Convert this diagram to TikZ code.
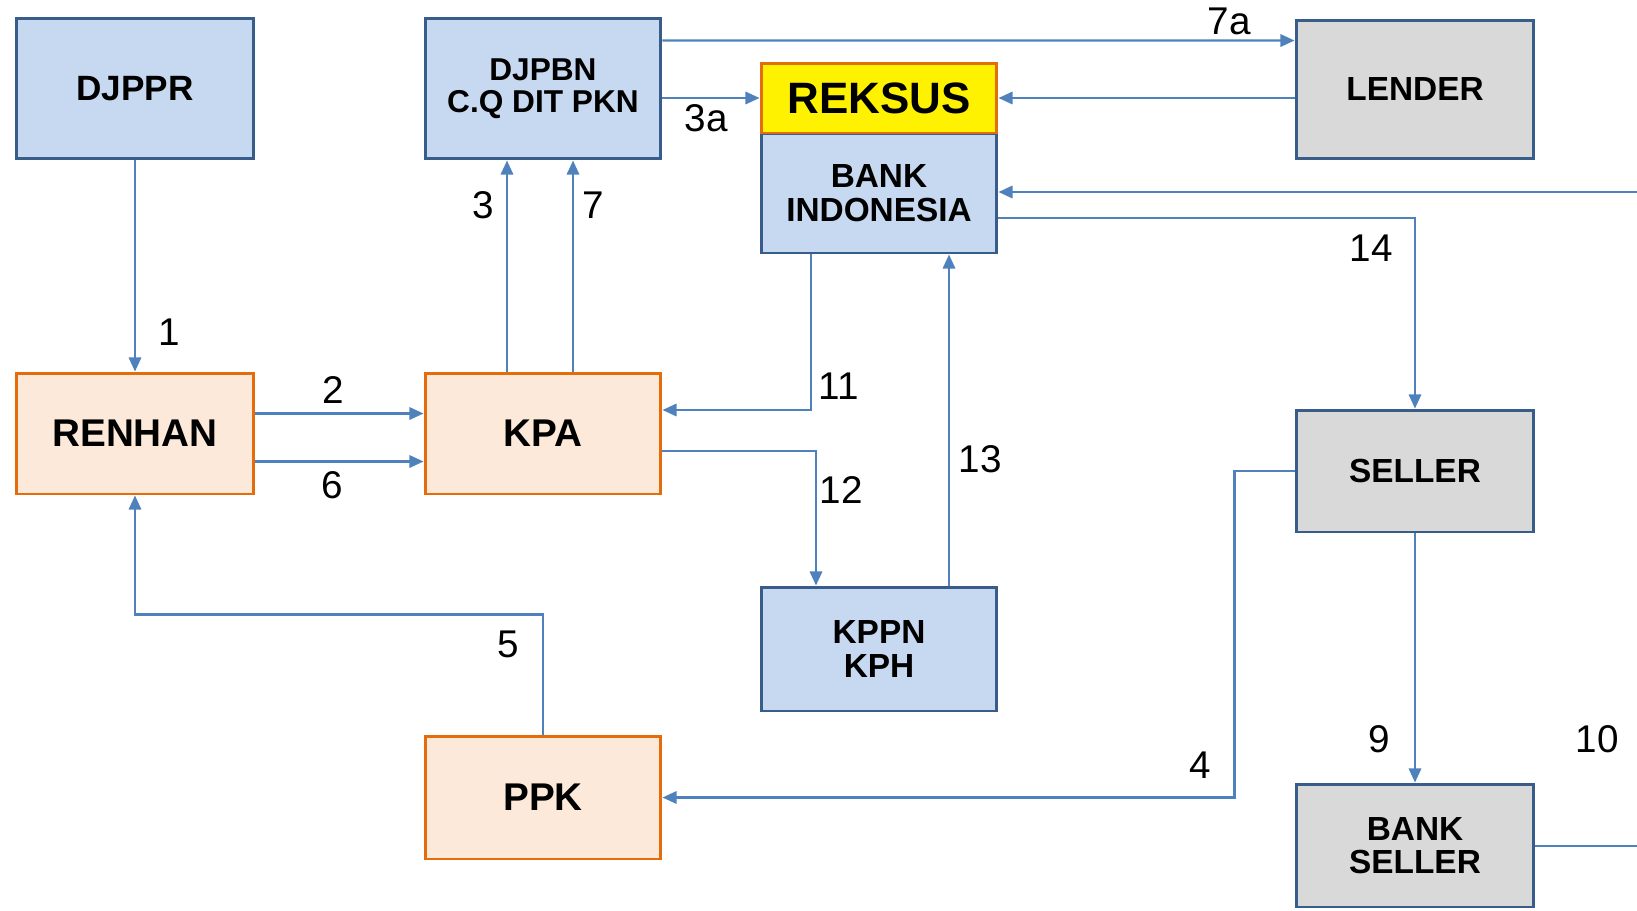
\documentclass[tikz,border=0pt]{standalone}
\usepackage{fontspec}
\setmainfont{Liberation Sans}
\usepackage{tikz}
\usetikzlibrary{calc, positioning, arrows.meta}

\definecolor{boxblue}{HTML}{C6D9F1}
\definecolor{edgeblue}{HTML}{385D8A}
\definecolor{boxorange}{HTML}{FDE9D9}
\definecolor{edgeorange}{HTML}{E46C0A}
\definecolor{boxgray}{HTML}{D9D9D9}
\definecolor{linkblue}{HTML}{4F81BD}

\begin{document}
\begin{tikzpicture}[
    x=0.02cm, y=-0.02cm,
    unit/.style={
        rectangle,
        line width=1.7pt,
        minimum width=4.72cm,
        align=center,
        inner sep=2pt,
        font=\bfseries\fontsize{19}{19}\selectfont
    },
    bluebox/.style={unit, draw=edgeblue, fill=boxblue},
    orangebox/.style={unit, draw=edgeorange, fill=boxorange, font=\bfseries\fontsize{22}{22}\selectfont},
    graybox/.style={unit, draw=edgeblue, fill=boxgray, minimum width=4.76cm},
    flow/.style={
        -{Triangle[length=8pt, width=7pt]},
        line width=1.3pt,
        color=linkblue
    },
    num/.style={font=\fontsize{22}{22}\selectfont, inner sep=0pt}
]
\useasboundingbox (0,0) rectangle (1637,910);

% top row
\node[bluebox, minimum width=4.76cm, minimum height=2.82cm, font=\bfseries\fontsize{20}{20}\selectfont] (djppr) at (135,88.5) {DJPPR};
\node[bluebox, minimum height=2.82cm, font=\bfseries\fontsize{18}{18}\selectfont] (djpbn) at (543,88.5) {DJPBN\\C.Q DIT PKN};
\node[bluebox, minimum height=2.4cm] (bi) at (879,193) {BANK\\INDONESIA};
\node[unit, draw=edgeorange, fill=yellow, minimum height=1.4cm, font=\bfseries\fontsize{25}{25}\selectfont] (reksus) at (879,98) {REKSUS};
\node[graybox, minimum height=2.78cm] (lender) at (1415,89.5) {LENDER};

% middle row
\node[orangebox, minimum width=4.76cm, minimum height=2.42cm] (renhan) at (135,433.5) {RENHAN};
\node[orangebox, minimum height=2.42cm] (kpa) at (543,433.5) {KPA};
\node[graybox, minimum height=2.44cm] (seller) at (1415,471) {SELLER};

% bottom row
\node[bluebox, minimum height=2.48cm] (kppn) at (879,649) {KPPN\\KPH};
\node[orangebox, minimum height=2.46cm] (ppk) at (543,797.5) {PPK};
\node[graybox, minimum height=2.46cm] (bseller) at (1415,845.5) {BANK\\SELLER};

\coordinate (inR) at (1637,192);
\coordinate (outR) at (1637,846);

% connectors
\draw[flow] (djppr.south) -- (renhan.north);
\draw[flow] ($(renhan.east)+(0,-20)$) -- ($(kpa.west)+(0,-20)$);
\draw[flow] ($(renhan.east)+(0,28)$) -- ($(kpa.west)+(0,28)$);
\draw[flow] ($(kpa.north)+(-36,0)$) -- ($(djpbn.south)+(-36,0)$);
\draw[flow] ($(kpa.north)+(30,0)$) -- ($(djpbn.south)+(30,0)$);
\draw[flow] (djpbn.east |- reksus.west) -- (reksus.west);
\draw[flow] ($(djpbn.north east)+(0,24)$) -- ($(lender.north west)+(0,22)$);
\draw[flow] (lender.west |- reksus.east) -- (reksus.east);
\draw[flow] (inR) -- (bi.east |- inR);
\draw[flow] ($(bi.east)+(0,25)$) -| (seller.north);
\draw[flow] ($(bi.south)+(-68,0)$) |- ($(kpa.east)+(0,-23.5)$);
\draw[flow] ($(kpa.east)+(0,17.5)$) -| ($(kppn.north)+(-63,0)$);
\draw[flow] ($(kppn.north)+(70,0)$) -- ($(bi.south)+(70,0)$);
\draw[flow] (seller.west) -- ++(-60,0) |- (ppk.east);
\draw[flow] (ppk.north) -- ($(ppk.north)+(0,-120)$) -| (renhan.south);
\draw[flow] (seller.south) -- (bseller.north);
\draw[flow, -, line width=1.6pt] (bseller.east |- outR) -- (outR);

% step numbers
\node[num] (n1) at (169,332) {1};
\node[num] (n2) at (333,390) {2};
\node[num] (n6) at (332,485) {6};
\node[num] (n3) at (483,205) {3};
\node[num] (n7) at (593,205) {7};
\node[num] (n3a) at (706,118) {3a};
\node[num] (n7a) at (1229,21) {7a};
\node[num] (n14) at (1371,248) {14};
\node[num] (n11) at (839,386) {11};
\node[num] (n12) at (841,490) {12};
\node[num] (n13) at (980,459) {13};
\node[num] (n4) at (1200,765) {4};
\node[num] (n5) at (508,644) {5};
\node[num] (n9) at (1379,739) {9};
\node[num] (n10) at (1597,739) {10};

\end{tikzpicture}
\end{document}
